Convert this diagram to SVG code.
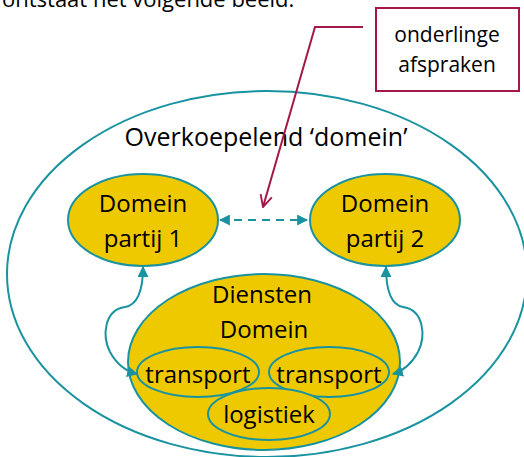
<svg xmlns="http://www.w3.org/2000/svg" width="524" height="457" viewBox="0 0 524 457">
<defs>
<style>
.t{font-family:"Open Sans","Noto Sans","Liberation Sans",sans-serif;fill:#000;text-anchor:middle}
.y{fill:#EFC900;stroke:#1993A0;stroke-width:2}
.c{fill:none;stroke:#1993A0;stroke-width:2}
</style>
<marker id="ah" viewBox="0 0 10 10" refX="9" refY="5" markerWidth="11" markerHeight="11" markerUnits="userSpaceOnUse" orient="auto-start-reverse">
<path d="M0,0 L10,5 L0,10 z" fill="#1993A0"/>
</marker>
<marker id="va" viewBox="0 0 12 12" refX="11" refY="6" markerWidth="14" markerHeight="14" markerUnits="userSpaceOnUse" orient="auto">
<path d="M1,1 L11,6 L1,11" fill="none" stroke="#A3174A" stroke-width="1.6"/>
</marker>
</defs>
<rect width="524" height="457" fill="#fff"/>
<text class="t" x="2" y="7" font-size="22" style="text-anchor:start">ontstaat het volgende beeld:</text>
<g id="overkoepelend">
<ellipse cx="267" cy="274" rx="260" ry="183" class="c"/>
<text class="t" x="266" y="146" font-size="25">Overkoepelend ‘domein’</text>
</g>
<g id="partij1">
<ellipse cx="143" cy="220" rx="75" ry="46" class="y"/>
<text class="t" x="143" y="212" font-size="24">Domein</text>
<text class="t" x="143" y="247" font-size="24">partij 1</text>
</g>
<g id="partij2">
<ellipse cx="385" cy="220" rx="75" ry="46" class="y"/>
<text class="t" x="385" y="212" font-size="24">Domein</text>
<text class="t" x="385" y="247" font-size="24">partij 2</text>
</g>
<g id="diensten">
<ellipse cx="264" cy="362" rx="136" ry="88" class="y"/>
<text class="t" x="262" y="303" font-size="24">Diensten</text>
<text class="t" x="264" y="338" font-size="24">Domein</text>
</g>
<g id="transport1">
<ellipse cx="198" cy="372" rx="61" ry="25" class="y"/>
<text class="t" x="198" y="383" font-size="24">transport</text>
</g>
<g id="transport2">
<ellipse cx="329" cy="372" rx="60" ry="25" class="y"/>
<text class="t" x="329" y="383" font-size="24">transport</text>
</g>
<g id="logistiek">
<ellipse cx="269" cy="414" rx="61" ry="26" class="y"/>
<text class="t" x="269" y="423" font-size="24">logistiek</text>
</g>
<g id="afspraken">
<rect x="376" y="8" width="143" height="83" fill="#fff" stroke="#A3174A" stroke-width="2"/>
<text class="t" x="447" y="42" font-size="21">onderlinge</text>
<text class="t" x="447" y="72" font-size="21">afspraken</text>
</g>
<g id="connectors">
<path d="M220,220 L307,220" class="c" stroke-dasharray="8,6" marker-start="url(#ah)" marker-end="url(#ah)"/>
<path d="M143,267 C143,292 137,305 125,307 C104,310 102,336 110,352 C116,363 125,371 137,374" class="c" marker-start="url(#ah)" marker-end="url(#ah)"/>
<path d="M386,267 C386,292 392,305 403,307 C424,310 426,336 418,352 C412,363 403,371 393,374" class="c" marker-start="url(#ah)" marker-end="url(#ah)"/>
<path d="M363,27 L315,27 L263,207" fill="none" stroke="#A3174A" stroke-width="2" marker-end="url(#va)"/>
</g>
</svg>
